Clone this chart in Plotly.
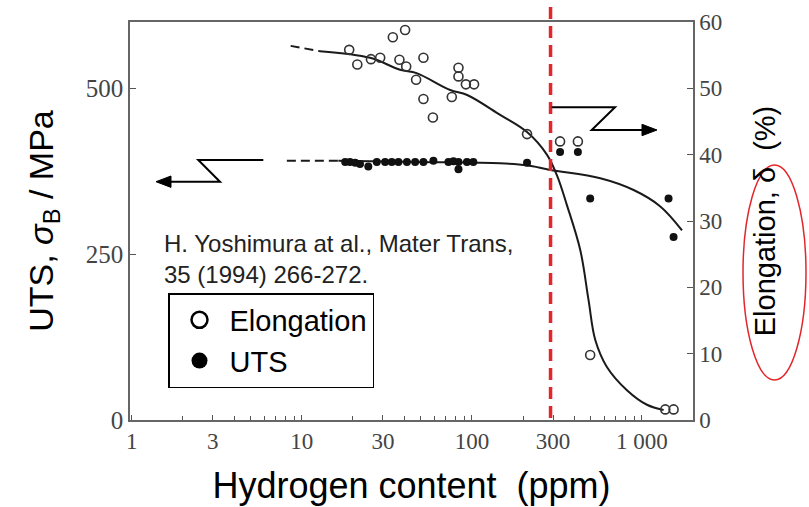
import math
import plotly.graph_objects as go

# ---------------- data ----------------
elong_ppm = [19.0, 21.2, 25.5, 28.9, 34.3, 40.5, 37.5, 41.1, 51.9, 47.0, 51.9, 59.0,
             76.2, 83.4, 83.4, 92.2, 103, 211, 330, 420, 496, 1371, 1534]
elong_pct = [55.8, 53.6, 54.4, 54.6, 57.7, 58.8, 54.3, 53.3, 54.6, 51.3, 48.4, 45.6,
             48.7, 53.1, 51.8, 50.6, 50.6, 43.1, 42.0, 42.0, 9.8, 1.6, 1.6]

uts_ppm = [18.0, 19.2, 20.6, 22.0, 24.6, 27.6, 30.9, 33.8, 37.0, 41.5, 46.4, 51.9,
           59.4, 72.8, 77.9, 83.4, 83.4, 93.5, 102, 211, 330, 420, 496, 1433, 1534]
uts_mpa = [389, 389, 388, 386, 382, 389, 389, 389, 389, 389, 389, 389,
           391, 389, 390, 389, 378, 389, 389, 388, 404, 404, 334, 334, 276]

# fitted trend curves (dashed extrapolation + solid fit)
elong_fit_dash_ppm = [8.6, 12.8]
elong_fit_dash_pct = [56.4, 55.6]
elong_fit_ppm = [12.8, 25.2, 37.8, 47.3, 74.5, 93.8, 146.6, 211, 276, 316, 362,
                 434, 485, 531, 622, 816, 1070, 1340]
elong_fit_pct = [55.6, 54.6, 52.8, 52.3, 49.75, 49.0, 46.0, 43.4, 40.0, 36.9, 32.4,
                 25.6, 18.1, 12.1, 8.0, 4.5, 2.3, 1.5]

uts_fit_dash_ppm = [8.17, 16.4]
uts_fit_dash_mpa = [391, 391]
uts_fit_ppm = [16.4, 49.6, 146.6, 211, 289, 569, 893, 1282, 1719]
uts_fit_mpa = [391, 389, 387, 384, 377, 364.5, 346.7, 322, 286]

threshold_ppm = 290

x_tick_vals = [1, 3, 10, 30, 100, 300, 1000]
x_tick_text = ["1", "3", "10", "30", "100", "300", "1 000"]
x_minor_vals = [m * 10 ** k for k in range(4) for m in range(2, 10)
                if m * 10 ** k <= 2000 and m * 10 ** k not in x_tick_vals]
uts_tick_vals = [0, 250, 500]
elong_tick_vals = [0, 10, 20, 30, 40, 50, 60]

# ---------------- geometry ----------------
W, H = 809, 507
PL, PR, PT, PB = 130, 693, 22, 420
X_RANGE = [-0.01, 3.30]


def fx(px):
    return (px - PL) / (PR - PL)


def fy(py):
    return (PB - py) / (PB - PT)


line_col = "#1a1a1a"
sans = "Liberation Sans, Arial, sans-serif"
serif = "Liberation Serif, Times New Roman, serif"

fig = go.Figure()

fig.add_trace(go.Scatter(x=elong_fit_dash_ppm, y=elong_fit_dash_pct, yaxis="y2",
                         mode="lines", line=dict(color=line_col, width=2, dash="9px,5px"),
                         showlegend=False, hoverinfo="skip"))
fig.add_trace(go.Scatter(x=elong_fit_ppm, y=elong_fit_pct, yaxis="y2",
                         mode="lines", line=dict(color=line_col, width=2, shape="spline", smoothing=1.0),
                         showlegend=False, hoverinfo="skip"))
fig.add_trace(go.Scatter(x=uts_fit_dash_ppm, y=uts_fit_dash_mpa,
                         mode="lines", line=dict(color=line_col, width=2, dash="9px,5px"),
                         showlegend=False, hoverinfo="skip"))
fig.add_trace(go.Scatter(x=uts_fit_ppm, y=uts_fit_mpa,
                         mode="lines", line=dict(color=line_col, width=2, shape="spline", smoothing=1.0),
                         showlegend=False, hoverinfo="skip"))

fig.add_trace(go.Scatter(x=elong_ppm, y=elong_pct, yaxis="y2", mode="markers", name="Elongation",
                         legendgroup="el", showlegend=False,
                         marker=dict(symbol="circle-open", size=9, color="#333",
                                     line=dict(width=1.6, color="#333"))))
fig.add_trace(go.Scatter(x=uts_ppm, y=uts_mpa, mode="markers", name="UTS",
                         legendgroup="uts", showlegend=False,
                         marker=dict(symbol="circle", size=8, color="#111")))
# legend entries (larger symbols as in the printed legend)
fig.add_trace(go.Scatter(x=[None], y=[None], yaxis="y2", mode="markers", name="Elongation",
                         legendgroup="el",
                         marker=dict(symbol="circle-open", size=24, color="black",
                                     line=dict(width=2.5, color="black"))))
fig.add_trace(go.Scatter(x=[None], y=[None], mode="markers", name="UTS", legendgroup="uts",
                         marker=dict(symbol="circle", size=24, color="black")))

# ---------------- decorations ----------------
shapes = []
thr_px = PL + (math.log10(threshold_ppm) - X_RANGE[0]) / (X_RANGE[1] - X_RANGE[0]) * (PR - PL)
shapes.append(dict(type="line", xref="paper", yref="paper",
                   x0=fx(thr_px), x1=fx(thr_px), y0=fy(418), y1=fy(0),
                   line=dict(color="#e3262b", width=3.5, dash="12px,7px")))
shapes.append(dict(type="circle", xref="paper", yref="paper",
                   x0=fx(743), x1=fx(806), y0=fy(380), y1=fy(165),
                   line=dict(color="#e3262b", width=1.5)))


def path_of(pts, close=False):
    p = "M " + " L ".join(f"{fx(x):.5f},{fy(y):.5f}" for x, y in pts)
    return p + (" Z" if close else "")


# zig-zag arrows pointing to the relevant axis
zl = [(263.3, 160), (198.3, 160), (220, 181.7), (168, 181.7)]
zr = [(551.7, 107.3), (615, 107.3), (591.7, 130), (644, 130)]
for pts in (zl, zr):
    shapes.append(dict(type="path", xref="paper", yref="paper", path=path_of(pts),
                       line=dict(color="black", width=2)))
heads = [[(156, 181.7), (171, 176), (171, 187.4)],
         [(657, 130), (642, 124.3), (642, 135.7)]]
for pts in heads:
    shapes.append(dict(type="path", xref="paper", yref="paper", path=path_of(pts, True),
                       fillcolor="black", line=dict(color="black", width=1)))

annotations = [
    dict(xref="paper", yref="paper", x=fx(162), y=fy(228), xanchor="left", yanchor="top",
         text="H. Yoshimura at al., Mater Trans,<br>35 (1994) 266-272.", align="left",
         showarrow=False, font=dict(family=sans, size=24, color="#222")),
]

fig.update_layout(
    width=W, height=H,
    margin=dict(l=PL, r=W - PR, t=PT, b=H - PB, pad=0),
    paper_bgcolor="white", plot_bgcolor="white",
    shapes=shapes, annotations=annotations,
    showlegend=True,
    legend=dict(x=fx(168), y=fy(293), xanchor="left", yanchor="top",
                bgcolor="white", bordercolor="black", borderwidth=1.5,
                font=dict(family=sans, size=29, color="black"),
                itemsizing="trace", itemwidth=50, tracegroupgap=0,
                entrywidth=170, entrywidthmode="pixels"),
    xaxis=dict(type="log", range=X_RANGE, tickmode="array", tickvals=x_tick_vals, ticktext=x_tick_text,
               ticks="inside", ticklen=5, tickwidth=1.2, tickcolor="#555",
               tickfont=dict(family=serif, size=23, color="#444"),
               minor=dict(tickmode="array", tickvals=x_minor_vals, ticks="inside", ticklen=4,
                          tickwidth=1.2, tickcolor="#555", showgrid=False),
               showline=True, linecolor="#666", linewidth=1.5, mirror=True,
               showgrid=False, zeroline=False, automargin=False,
               title=dict(text="Hydrogen content\u00a0\u00a0(ppm)",
                          font=dict(family=sans, size=36, color="black"), standoff=19)),
    yaxis=dict(range=[0, 600], tickmode="array", tickvals=uts_tick_vals,
               ticks="inside", ticklen=6, tickwidth=1.2, tickcolor="#555",
               tickfont=dict(family=serif, size=25, color="#444"),
               showline=True, linecolor="#666", linewidth=1.5,
               showgrid=False, zeroline=False, automargin=False,
               title=dict(text="UTS, <i>σ</i><sub>B</sub> / MPa",
                          font=dict(family=sans, size=34, color="black"), standoff=22)),
    yaxis2=dict(range=[0, 60], overlaying="y", side="right", tickmode="array", tickvals=elong_tick_vals,
                ticks="inside", ticklen=6, tickwidth=1.2, tickcolor="#555",
                tickfont=dict(family=serif, size=23, color="#444"),
                showline=True, linecolor="#666", linewidth=1.5,
                showgrid=False, zeroline=False, automargin=False,
                title=dict(text="Elongation, δ\u00a0\u00a0(%)",
                           font=dict(family=sans, size=29, color="black"), standoff=33)),
)

fig.write_html("out.html")
